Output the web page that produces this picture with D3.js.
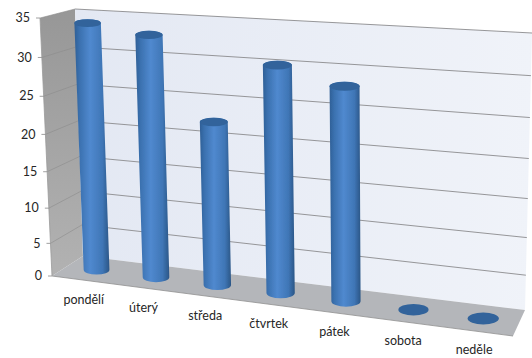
<!DOCTYPE html>
<html><head><meta charset="utf-8">
<script src="https://cdn.jsdelivr.net/npm/d3@7"></script>
<style>html,body{margin:0;background:#fff}svg{display:block}text{font-family:Lato,sans-serif;font-size:12.5px;fill:#262626}</style>
</head><body><svg id="c" width="532" height="358"></svg>
<script>
const categories=["pondělí","úterý","středa","čtvrtek","pátek","sobota","neděle"];
const values=[34,33,22.5,30.3,28.3,0,0];
const valueTicks=[0,5,10,15,20,25,30,35];
// box corners as seen in the picture: [bottom-left, bottom-right, top-right, top-left]
const backQuad=[[83,256],[525,310],[532,33],[75,9]];
const frontQuad=[[52,276],[513,336],[514,50],[40,18]];

function homography(q){
  const [[x0,y0],[x1,y1],[x2,y2],[x3,y3]]=q;
  const dx1=x1-x2,dx2=x3-x2,sx=x0-x1+x2-x3,dy1=y1-y2,dy2=y3-y2,sy=y0-y1+y2-y3;
  const den=dx1*dy2-dx2*dy1;
  const g=(sx*dy2-dx2*sy)/den,h=(dx1*sy-sx*dy1)/den;
  const a=x1-x0+g*x1,b=x3-x0+h*x3,d=y1-y0+g*y1,e=y3-y0+h*y3;
  return (u,v)=>{const w=g*u+h*v+1;return [(a*u+b*v+x0)/w,(d*u+e*v+y0)/w];};
}
const hFront=homography(frontQuad),hBack=homography(backQuad);
const project=(u,v,d)=>{const f=hFront(u,v),b=hBack(u,v);return [f[0]+(b[0]-f[0])*d,f[1]+(b[1]-f[1])*d];};

const x=d3.scaleBand().domain(categories).range([0,1]).paddingInner(0.56).paddingOuter(0.28);
const y=d3.scalePow().exponent(1.05).domain([0,35]).range([0,1]);
const svg=d3.select("#c");
const defs=svg.append("defs");
function grad(id,stops,x2=1,y2=0){
  const g=defs.append("linearGradient").attr("id",id).attr("x1",0).attr("y1",0).attr("x2",x2).attr("y2",y2);
  stops.forEach(([o,c])=>g.append("stop").attr("offset",o).attr("stop-color",c));
}
grad("wall",[[0,"#e3e8f3"],[1,"#f0f3f9"]]);
grad("side",[[0,"#979797"],[1,"#b2b2b2"]],0,1);
grad("bar",[[0,"#2f5f96"],[0.14,"#3a70ae"],[0.45,"#5089cf"],[0.8,"#3f76b6"],[1,"#2b5686"]]);
defs.append("filter").attr("id","soft").append("feGaussianBlur").attr("stdDeviation",0.4);

const line=d3.line();
const chart=svg.append("g").attr("filter","url(#soft)");
// left wall
chart.append("path").attr("d",line([project(0,0,0),project(0,1,0),project(0,1,1),project(0,0,1)])+"Z").attr("fill","url(#side)");
// back wall
chart.append("path").attr("d",line(backQuad)+"Z").attr("fill","url(#wall)");
// floor
chart.append("path").attr("d",line([project(0,0,0),project(1,0,0),project(1,0,1),project(0,0,1)])+"Z").attr("fill","#b4b6ba");
// grid
valueTicks.slice(1).forEach(t=>{
  chart.append("path").attr("d",line([project(0,y(t),1),project(1,y(t),1)])).attr("fill","none").attr("stroke","#8b8b8d").attr("stroke-width",0.9);
  chart.append("path").attr("d",line([project(0,y(t),0),project(0,y(t),1)])).attr("fill","none").attr("stroke","#8c8c8c").attr("stroke-width",0.6);
});
chart.append("path").attr("d",line([project(0,0,0),project(0,1,0)])).attr("fill","none").attr("stroke","#9a9a9a").attr("stroke-width",0.8);
chart.append("path").attr("d",line([project(0,0,0),project(1,0,0)])).attr("fill","none").attr("stroke","#8f8f8f").attr("stroke-width",0.8);
valueTicks.forEach(t=>{
  const p=project(0,y(t),0);
  chart.append("path").attr("d",line([[p[0]-4,p[1]],p])).attr("stroke","#888").attr("stroke-width",0.8).attr("fill","none");
});
// cylinders
categories.forEach((c,i)=>{
  const u=x(c)+x.bandwidth()/2,w=x.bandwidth()/2,v=y(values[i]);
  const bl=project(u-w,0,.5),br=project(u+w,0,.5),b=project(u,0,.5);
  const tl=project(u-w,v,.5),tr=project(u+w,v,.5),t=project(u,v,.5);
  const rb=(br[0]-bl[0])/2,rt=(tr[0]-tl[0])/2,ryB=rb*0.38,ryT=values[i]>0?rt*0.3:rt*0.38;
  const bL=[b[0]-rb,b[1]],bR=[b[0]+rb,b[1]],tL=[t[0]-rt,t[1]],tR=[t[0]+rt,t[1]];
  if(values[i]>0){
    chart.append("path").attr("fill","url(#bar)")
      .attr("d",`M${tL}L${bL}A${rb} ${ryB} 0 0 0 ${bR}L${tR}A${rt} ${ryT} 0 0 0 ${tL}Z`);
  }
  chart.append("ellipse").attr("cx",t[0]).attr("cy",t[1]).attr("rx",rt).attr("ry",ryT).attr("fill","#30639b");
});
// labels
valueTicks.forEach(t=>{
  const p=project(0,y(t),0);
  svg.append("text").attr("x",p[0]-10).attr("y",p[1]+1).attr("text-anchor","end").attr("dominant-baseline","middle").text(t);
});
categories.forEach(c=>{
  const u=x(c)+x.bandwidth()/2;
  const p=project(u,0,0);
  svg.append("text").attr("x",p[0]+Math.max(2.5-8*u,-2.5)).attr("y",p[1]+24.6-2.2*u).attr("text-anchor","middle").text(c);
});
</script></body></html>
